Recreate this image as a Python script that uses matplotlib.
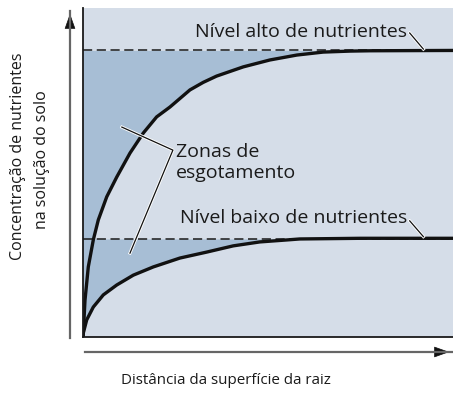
import matplotlib
matplotlib.use('Agg')
import matplotlib.pyplot as plt
import matplotlib.patheffects as pe
from matplotlib.patches import FancyArrowPatch
from matplotlib.lines import Line2D

plt.rcParams['font.family'] = ['Open Sans', 'DejaVu Sans']

# distance from root surface (0-100) and nutrient concentration (0-100)
high_x = [0, 0.08, 0.54, 1.43, 2.78, 4.14, 6.41, 9.11, 12.7, 16.3, 19.9, 23.5, 28.9,
          32.5, 36.1, 43.3, 50.5, 57.8, 64.9, 72.2, 77.6, 100]
high_y = [0, 1.2, 11.2, 21.3, 29.5, 35.6, 42.6, 48.6, 55.9, 62.0, 66.9, 69.9, 75.1,
          77.4, 79.3, 82.1, 84.2, 85.7, 86.6, 86.9, 87.0, 87.1]
low_x = [0, 0.08, 1.0, 2.78, 5.49, 9.11, 13.6, 19.0, 26.2, 33.4, 40.6, 47.8, 55.1,
         58.6, 75.0, 100]
low_y = [0, 1.2, 5.2, 9.1, 12.8, 15.8, 18.8, 21.3, 24.0, 25.8, 27.7, 28.9, 29.5,
         29.8, 30.0, 30.0]
high_level = 87.1
low_level = 29.8

bg = '#d5dde8'
zone = '#a7bed5'

fig = plt.figure(figsize=(4.53, 3.95), dpi=100)
W, H = 453, 395
ax = fig.add_axes([83 / W, (H - 337) / H, (W - 83) / W, (337 - 8) / H])
ax.set_facecolor(bg)
ax.set_xlim(0, 100)
ax.set_ylim(0, 100)
ax.set_xticks([])
ax.set_yticks([])
for s in ['top', 'right']:
    ax.spines[s].set_visible(False)
for s in ['left', 'bottom']:
    ax.spines[s].set_color('#1a1a1a')
    ax.spines[s].set_linewidth(1.3)

ax.fill_between(high_x, high_y, high_level, color=zone, lw=0)
ax.fill_between(low_x, low_y, low_level, where=[v <= low_level for v in low_y],
                color=zone, lw=0)
ax.axhline(high_level, color='#1a1a1a', lw=1.1, ls=(0, (6, 3)))
ax.axhline(low_level, color='#1a1a1a', lw=1.1, ls=(0, (6, 3)))
ax.plot(high_x, high_y, color='#111111', lw=2.4, solid_joinstyle='round')
ax.plot(low_x, low_y, color='#111111', lw=2.4, solid_joinstyle='round')

fs = 14
fs_ax = 11.5
tc = '#1a1a1a'
halo = [pe.withStroke(linewidth=2.2, foreground='white')]

ax.text(87.7, 91.2, 'Nível alto de nutrientes', ha='right', va='baseline', fontsize=fs, color=tc)
ax.plot([88.3, 92.0], [92.4, 87.5], color='#111111', lw=0.9, path_effects=halo)
ax.text(87.7, 34.7, 'Nível baixo de nutrientes', ha='right', va='baseline', fontsize=fs, color=tc)
ax.plot([88.3, 92.0], [35.3, 30.5], color='#111111', lw=0.9, path_effects=halo)

ax.text(25.1, 54.7, 'Zonas de', ha='left', va='baseline', fontsize=fs, color=tc)
ax.text(25.1, 48.3, 'esgotamento', ha='left', va='baseline', fontsize=fs, color=tc)
ax.plot([10.5, 24.3, 12.7], [63.8, 56.8, 25.5], color='#111111', lw=0.9, path_effects=halo)

# axis arrows: grey shaft, black head
def arrow(p0, p1):
    f0 = (p0[0] / W, 1 - p0[1] / H)
    f1 = (p1[0] / W, 1 - p1[1] / H)
    fig.add_artist(Line2D([f0[0], f1[0]], [f0[1], f1[1]], transform=fig.transFigure,
                          color='#666666', lw=1.6))
    hx = f1[0] - (f1[0] - f0[0]) * 0.04
    hy = f1[1] - (f1[1] - f0[1]) * 0.04
    fig.add_artist(FancyArrowPatch((hx, hy), f1, transform=fig.transFigure,
                                   arrowstyle='-|>,head_length=0.7,head_width=0.25',
                                   mutation_scale=14, color='#111111', lw=0.5))

arrow((70, 338), (70, 11))
arrow((85, 352), (452, 352))

fig.text(18 / W, 1 - 156 / H, 'Concentração de nutrientes', rotation=90,
         ha='center', va='center', fontsize=fs_ax, color=tc)
fig.text(42 / W, 1 - 160 / H, 'na solução do solo', rotation=90,
         ha='center', va='center', fontsize=fs_ax, color=tc)
fig.text(226 / W, 1 - 380 / H, 'Distância da superfície da raiz', ha='center', va='center',
         fontsize=10.9, color=tc)

fig.savefig('out.png', dpi=100)
